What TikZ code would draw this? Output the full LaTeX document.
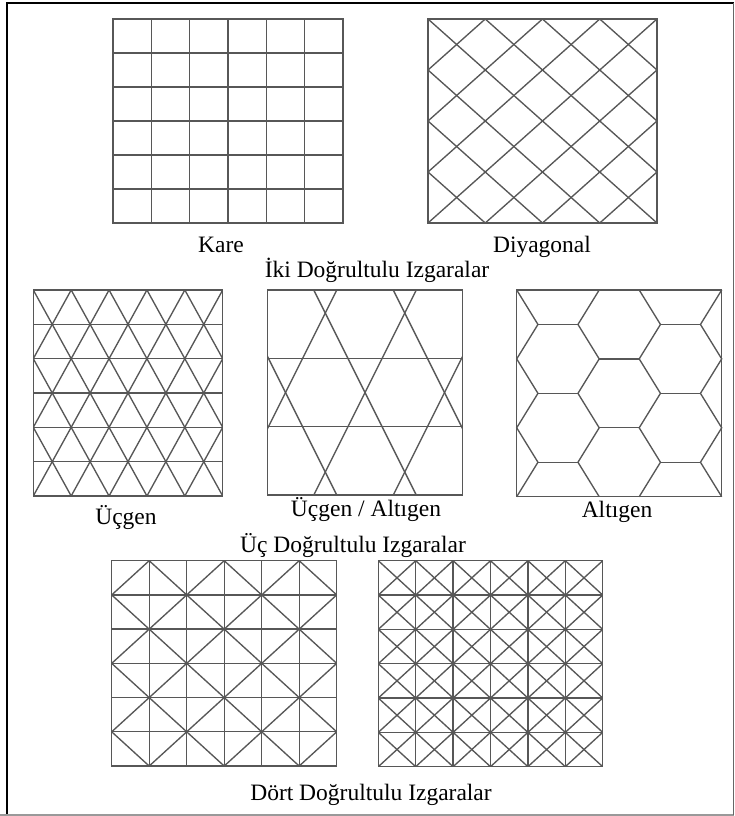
\documentclass[tikz,border=0pt]{standalone}
\usepackage{fontspec}
\setmainfont{Liberation Serif}
\begin{document}
\begin{tikzpicture}[x=1pt,y=-1pt,
  gridline/.style={draw=black!66,line width=1.35pt},
  boxline/.style={draw=black!66,line width=1.45pt},
  lbl/.style={anchor=base,inner sep=0pt,font=\fontsize{23.5}{28}\selectfont}]
\useasboundingbox (0,0) rectangle (734,816);
% outer frame
\draw[black,line width=1.6pt] (7,816) -- (7,3) -- (734,3);
\draw[black!40,line width=1.2pt] (0,815) -- (734,815);
\draw[black!60,line width=1pt] (733.3,3) -- (733.3,815);

% ---------- Kare ----------
\begin{scope}[shift={(113,19)},x=38.33pt,y=-34pt]
  \foreach \i in {1,...,5} {\draw[gridline] (\i,0) -- (\i,6); \draw[gridline] (0,\i) -- (6,\i);}
  \draw[boxline] (0,0) rectangle (6,6);
\end{scope}

% ---------- Diyagonal ----------
\begin{scope}[shift={(428,19)},x=57.25pt,y=-51pt]
  \begin{scope}
    \clip (0,0) rectangle (4,4);
    \foreach \k in {-3,...,3} {\draw[gridline] (\k,0) -- (\k+4,4);}
    \foreach \k in {1,...,7} {\draw[gridline] (\k,0) -- (\k-4,4);}
  \end{scope}
  \draw[boxline] (0,0) rectangle (4,4);
\end{scope}

% ---------- Ucgen ----------
\begin{scope}[shift={(33.3,290)},x=37.88pt,y=-34.33pt]
  \begin{scope}
    \clip (0,0) rectangle (5,6);
    \foreach \j in {1,...,5} {\draw[gridline] (0,\j) -- (5,\j);}
    \foreach \k in {-3,...,4} {\draw[gridline] (\k,0) -- (\k+3,6);}
    \foreach \k in {1,...,8} {\draw[gridline] (\k,0) -- (\k-3,6);}
  \end{scope}
  \draw[boxline] (0,0) rectangle (5,6);
\end{scope}

% ---------- Ucgen / Altigen ----------
\begin{scope}[shift={(365,392.5)}]
  \begin{scope}
    \clip (-97.7,-102.5) rectangle (97.7,102.5);
    \draw[gridline] (-97.7,-34.2) -- (97.7,-34.2);
    \draw[gridline] (-97.7,34.2) -- (97.7,34.2);
    \foreach \m in {-1,0,1} {
      \draw[gridline] ({\m*79.5-56},-112) -- ({\m*79.5+56},112);
      \draw[gridline] ({\m*79.5+56},-112) -- ({\m*79.5-56},112);
    }
  \end{scope}
  \draw[boxline] (-97.7,-102.5) rectangle (97.7,102.5);
\end{scope}

% ---------- Altigen ----------
\begin{scope}[shift={(516.7,290)},y=-34.45pt]
  \def\ua{0}\def\ub{21.25}\def\uc{61.25}\def\ud{82.5}
  \def\ue{122.5}\def\uf{143.75}\def\ug{183.75}\def\uh{205}
  \foreach \v in {1,3,5} {\draw[gridline] (\ub,\v) -- (\uc,\v); \draw[gridline] (\uf,\v) -- (\ug,\v);}
  \foreach \v in {2,4} {\draw[gridline] (\ud,\v) -- (\ue,\v);}
  \draw[gridline] (\ua,0) -- (\ub,1) -- (\ua,2) -- (\ub,3) -- (\ua,4) -- (\ub,5) -- (\ua,6);
  \draw[gridline] (\ud,0) -- (\uc,1) -- (\ud,2) -- (\uc,3) -- (\ud,4) -- (\uc,5) -- (\ud,6);
  \draw[gridline] (\ue,0) -- (\uf,1) -- (\ue,2) -- (\uf,3) -- (\ue,4) -- (\uf,5) -- (\ue,6);
  \draw[gridline] (\uh,0) -- (\ug,1) -- (\uh,2) -- (\ug,3) -- (\uh,4) -- (\ug,5) -- (\uh,6);
  \draw[boxline] (\ua,0) rectangle (\uh,6);
\end{scope}

% ---------- Dort 1 ----------
\begin{scope}[shift={(111.7,560.7)},x=37.5pt,y=-34.22pt]
  \begin{scope}
    \clip (0,0) rectangle (6,6);
    \foreach \i in {1,...,5} {\draw[gridline] (\i,0) -- (\i,6); \draw[gridline] (0,\i) -- (6,\i);}
    \foreach \k in {1,3,...,11} {\draw[gridline] (\k,0) -- (\k-6,6);}
    \foreach \k in {-5,-3,...,5} {\draw[gridline] (\k,0) -- (\k+6,6);}
  \end{scope}
  \draw[boxline] (0,0) rectangle (6,6);
\end{scope}

% ---------- Dort 2 ----------
\begin{scope}[shift={(378.3,560.7)},x=37.4pt,y=-34.33pt]
  \begin{scope}
    \clip (0,0) rectangle (6,6);
    \foreach \i in {1,...,5} {\draw[gridline] (\i,0) -- (\i,6); \draw[gridline] (0,\i) -- (6,\i);}
    \foreach \k in {1,...,11} {\draw[gridline] (\k,0) -- (\k-6,6);}
    \foreach \k in {-5,...,5} {\draw[gridline] (\k,0) -- (\k+6,6);}
  \end{scope}
  \draw[boxline] (0,0) rectangle (6,6);
\end{scope}

% ---------- labels ----------
\node[lbl] (kare) at (221,252) {Kare};
\node[lbl] (diyag) at (542,252) {Diyagonal};
\node[lbl] (iki) at (377,277) {İki Doğrultulu Izgaralar};
\node[lbl] (ucgen) at (126,524) {Üçgen};
\node[lbl] (ucalt) at (366,516) {Üçgen / Altıgen};
\node[lbl] (altigen) at (617,517) {Altıgen};
\node[lbl] (uc) at (353,552) {Üç Doğrultulu Izgaralar};
\node[lbl] (dort) at (371,800) {Dört Doğrultulu Izgaralar};
\end{tikzpicture}
\end{document}
